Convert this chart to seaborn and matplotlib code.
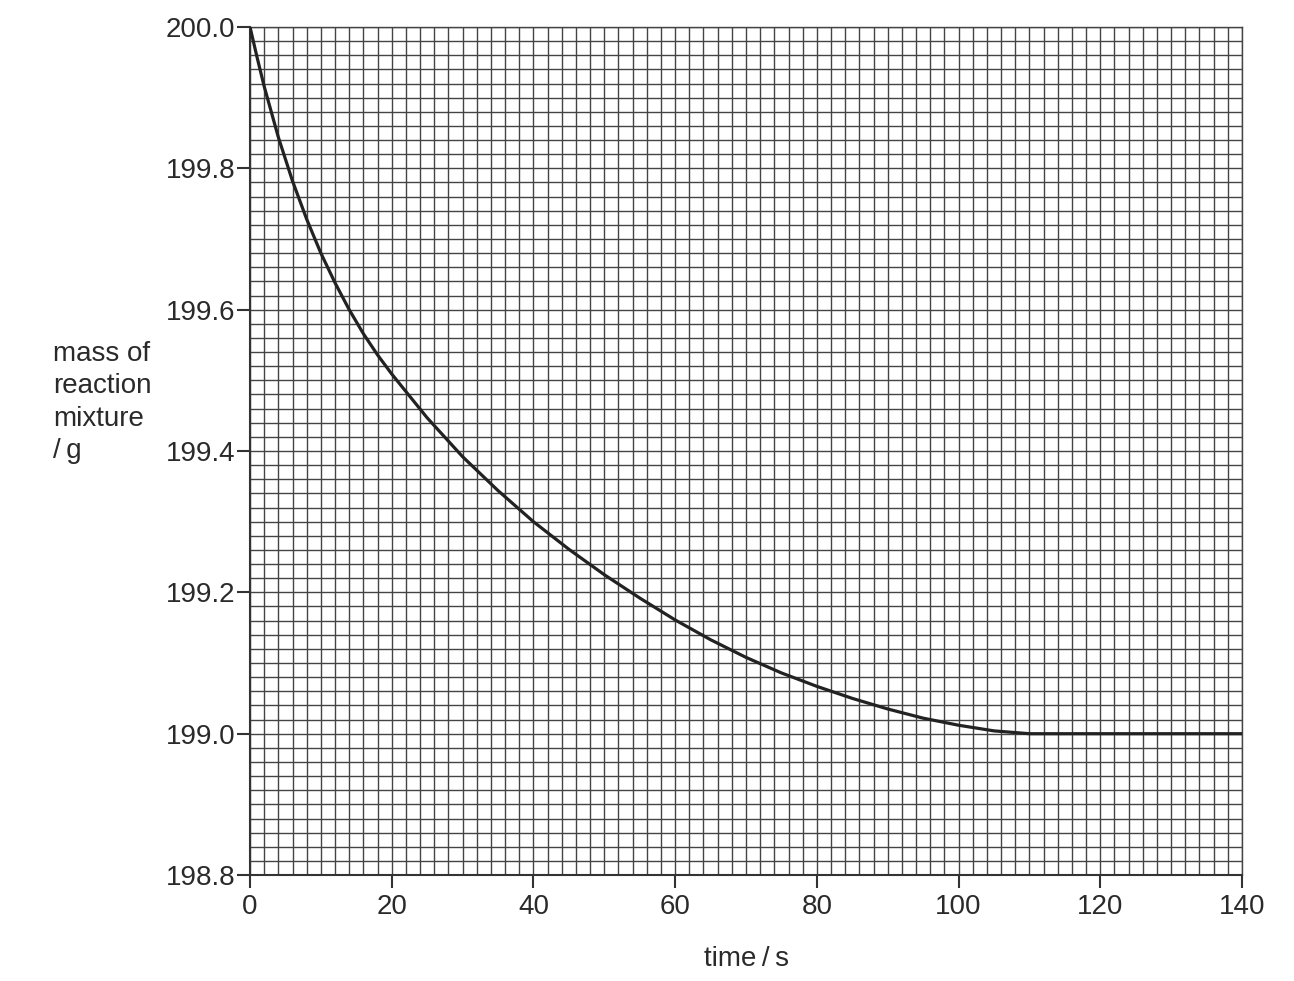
import numpy as np
import pandas as pd
import matplotlib.pyplot as plt
import seaborn as sns

# values
time_s = [0, 1, 2, 4, 6, 8, 10, 12, 14, 16, 18, 20, 25, 30, 35, 40, 45, 50, 55, 60,
          65, 70, 75, 80, 85, 90, 95, 100, 105, 110, 120, 130, 140]
mass_g = [200.0, 199.957, 199.916, 199.844, 199.782, 199.728, 199.68, 199.638, 199.60, 199.566,
          199.536, 199.509, 199.447, 199.392, 199.344, 199.30, 199.261, 199.225, 199.192, 199.161,
          199.133, 199.108, 199.086, 199.067, 199.05, 199.035, 199.022, 199.012, 199.004, 199.0,
          199.0, 199.0, 199.0]
x_ticks = [0, 20, 40, 60, 80, 100, 120, 140]
y_ticks = [198.8, 199.0, 199.2, 199.4, 199.6, 199.8, 200.0]

df = pd.DataFrame({"time": time_s, "mass": mass_g})

sns.set_style("white")
plt.rcParams['font.family'] = ['Liberation Sans', 'DejaVu Sans']

fig = plt.figure(figsize=(12.94, 9.81), dpi=100)
ax = fig.add_axes([0.1932, 0.108, 0.7666, 0.8645])

sns.lineplot(data=df, x="time", y="mass", ax=ax, color="#222222", linewidth=2.3, zorder=5)

ax.set_xlim(0, 140)
ax.set_ylim(198.8, 200.0)
ax.set_xticks(x_ticks)
ax.set_yticks(y_ticks)
ax.set_xticklabels([str(v) for v in x_ticks])
ax.set_yticklabels([f"{v:.1f}" for v in y_ticks])
ax.set_xticks(np.arange(0, 141, 2), minor=True)
ax.set_yticks(np.linspace(198.8, 200.0, 61), minor=True)
ax.grid(which="both", color="#444444", linewidth=1.0)
ax.set_axisbelow(True)
ax.tick_params(which="minor", length=0)
ax.tick_params(which="major", length=9.5, width=1.5, color="#333333",
               labelsize=20, labelcolor="#2a2a2a", direction="out",
               bottom=True, left=True)
ax.tick_params(axis="x", pad=4)
ax.tick_params(axis="y", pad=1)
for side in ["left", "bottom"]:
    ax.spines[side].set_color("#333333")
    ax.spines[side].set_linewidth(1.5)
for side in ["top", "right"]:
    ax.spines[side].set_color("#444444")
    ax.spines[side].set_linewidth(1.0)

ax.set_xlabel("")
ax.set_ylabel("")
fig.text(746 / 1294, 1 - 959 / 981, "time\u2009/\u2009s", ha="center", va="center",
         fontsize=20, color="#2a2a2a")
fig.text(53 / 1294, 1 - 341 / 981, "mass of\nreaction\nmixture\n/\u2009g", ha="left", va="top",
         fontsize=20, color="#2a2a2a", linespacing=1.32)

fig.savefig("out.png", dpi=100)
